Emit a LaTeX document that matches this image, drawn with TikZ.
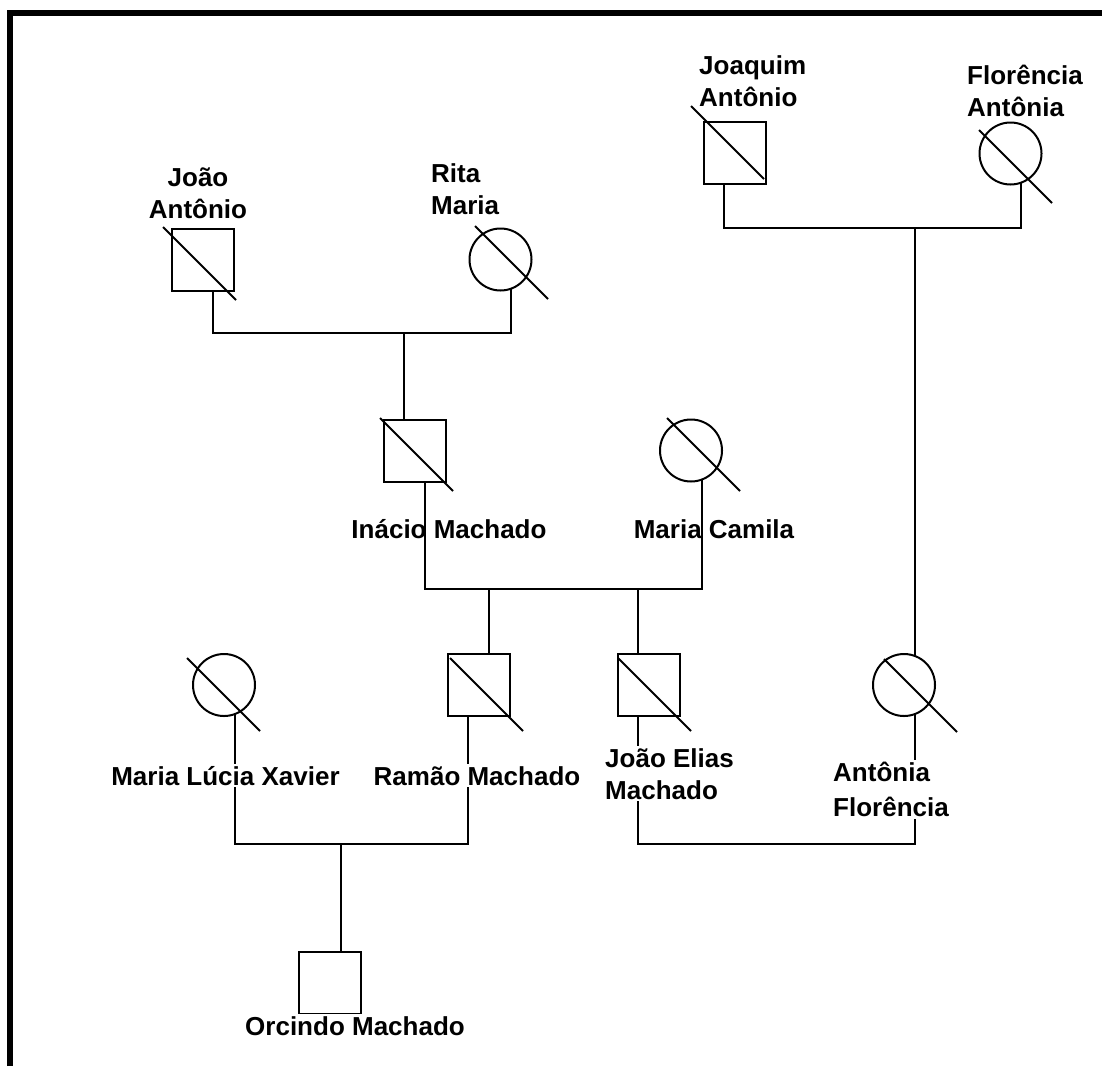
\documentclass[tikz,border=0pt]{standalone}
\usepackage{fontspec}
\setmainfont{Liberation Sans}
\usetikzlibrary{calc}

\tikzset{
  male/.style={draw, rectangle, minimum size=62pt, inner sep=0pt, outer sep=0pt, line width=2pt},
  female/.style={draw, circle, minimum size=62pt, inner sep=0pt, outer sep=0pt, line width=2pt},
  deceased/.style={line width=2pt},
  kin/.style={line width=2pt},
  personname/.style={font=\bfseries\fontsize{26}{32}\selectfont, inner sep=2pt, fill=white},
}

\begin{document}
\begin{tikzpicture}[x=1pt, y=-1pt]
\useasboundingbox (0,0) rectangle (1102,1066);
\draw[line width=6pt] (10,1066) -- (10,13) -- (1102,13);

% people
\node[male] (ja) at (202.5,260) {};
\node[female] (rita) at (500.5,259.5) {};
\node[male] (joaquim) at (734.5,153) {};
\node[female] (florencia) at (1010.5,153.5) {};
\node[male] (inacio) at (414.5,451) {};
\node[female] (mcamila) at (691,450.5) {};
\node[female] (mlucia) at (224,685) {};
\node[male] (ramao) at (479,685) {};
\node[male] (joaoelias) at (649,685) {};
\node[female] (antonia) at (904,685) {};
\node[male] (orcindo) at (330,982.5) {};

% deceased
\draw[deceased] ($(ja)+(-39.5,-33)$) -- ++(73,73);
\draw[deceased] ($(joaquim)+(-43.5,-47)$) -- ++(73,73);
\draw[deceased] ($(rita)+(-25.5,-33.5)$) -- ++(73,73);
\draw[deceased] ($(florencia)+(-31.5,-23.5)$) -- ++(73,73);
\draw[deceased] ($(inacio)+(-34.5,-33)$) -- ++(73,73);
\draw[deceased] ($(mcamila)+(-24,-32.5)$) -- ++(73,73);
\draw[deceased] ($(joaoelias)+(-31,-27)$) -- ++(73,73);
\draw[deceased] ($(antonia)+(-20,-26)$) -- ++(73,73);
\draw[deceased] ($(mlucia)+(-37,-27)$) -- ++(73,73);
\draw[deceased] ($(ramao)+(-29,-27)$) -- ++(73,73);

% unions
\coordinate (u1) at (404,333);
\coordinate (u2) at (915,228);
\coordinate (u3a) at (489,589);
\coordinate (u3b) at (638,589);
\coordinate (u4) at (341,844);
\coordinate (u5) at (777,844);

\draw[kin] (ja.-71) |- (u1) -| (rita.-70);
\draw[kin] (u1) -- (inacio.109 -| u1);
\draw[kin] (joaquim.-109) |- (u2) -| (florencia.-70);
\draw[kin] (u2) -- (antonia.70 -| u2);
\draw[kin] (inacio.-71) |- (u3a) -- (u3b) -| (mcamila.-70);
\draw[kin] (u3a) -- (ramao.71 -| u3a);
\draw[kin] (u3b) -- (joaoelias.109 -| u3b);
\draw[kin] (mlucia.-70) |- (u4) -| (ramao.-109);
\draw[kin] (u4) -- (orcindo.71 -| u4);
\draw[kin] (joaoelias.-109) |- (u5) -| (antonia.-70);

% names
\node[personname, align=center, anchor=north] (janame) at (198,166) {João\\Antônio};
\node[personname, align=left, anchor=north west] (ritaname) at (429,161) {Rita\\Maria};
\node[personname, align=left, anchor=north west] (joaquimname) at (697,53) {Joaquim\\Antônio};
\node[personname, align=left, anchor=north west] (florencianame) at (965,63) {Florência\\Antônia};
\node[personname, fill=none, anchor=base] (inacioname) at (449,538) {Inácio Machado};
\node[personname, fill=none, anchor=base] (mcamilaname) at (714,538) {Maria Camila};
\node[personname, anchor=base] (mlucianame) at (225.5,785) {Maria Lúcia Xavier};
\node[personname, anchor=base] (ramaoname) at (477,785) {Ramão Machado};
\node[personname, align=left, anchor=north west] (joaoeliasname) at (603,746) {João Elias\\Machado};
\node[personname, align=left, anchor=north west] (antonianame) at (831,760) {Antônia\\[3pt]Florência};
\node[personname, anchor=base] (orcindoname) at (355,1035) {Orcindo Machado};
\end{tikzpicture}
\end{document}
